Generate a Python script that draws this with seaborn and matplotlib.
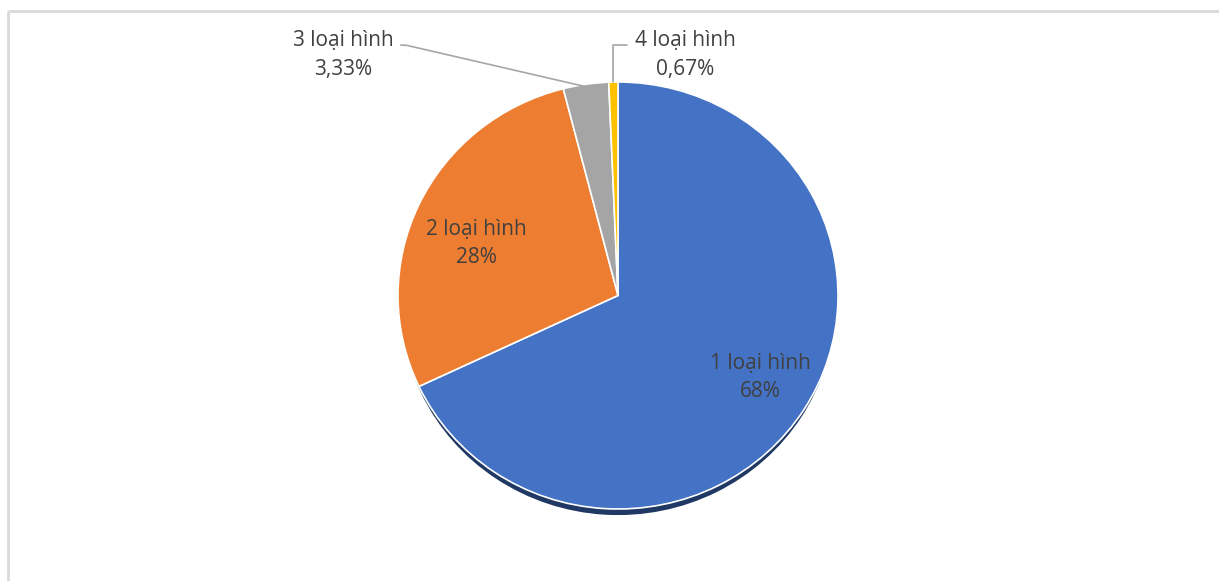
import numpy as np
import seaborn as sns
import matplotlib.pyplot as plt

# values
categories = ["1 loại hình", "2 loại hình", "3 loại hình", "4 loại hình"]
shares = [68, 28, 3.33, 0.67]
share_labels = ["68%", "28%", "3,33%", "0,67%"]
colors = ["#4472C4", "#ED7D31", "#A5A5A5", "#FFC000"]

W, H = 1219, 581
sns.set_theme(style="white")
plt.rcParams['font.family'] = ['Open Sans', 'DejaVu Sans']
palette = sns.color_palette(colors)

# the pie in the reference is a touch wider than tall
RX, RY = 220, 213.5
k = RX / RY


def py(y):
    # pixel row (from top) -> data y
    return (H - y) * k


fig = plt.figure(figsize=(W / 100, H / 100), dpi=100)
ax = fig.add_axes([0, 0, 1, 1])

# outer frame (only left and top edges are visible)
ax.plot([8, 8], [py(H + 5), py(11)], color='#d9d9d9', lw=2, solid_capstyle='butt')
ax.plot([8, W + 5], [py(11), py(11)], color='#d9d9d9', lw=2, solid_capstyle='butt')

cx, cy = 618, py(295.5)

# shadow under the pie
ax.pie(shares, colors=['#1F3864'] * 4, startangle=90, counterclock=False,
       center=(cx, cy - 9 * k), radius=RX - 3, frame=True,
       wedgeprops=dict(linewidth=0))

wedges, _ = ax.pie(shares, colors=palette, startangle=90, counterclock=False,
                   center=(cx, cy), radius=RX, frame=True,
                   wedgeprops=dict(edgecolor='white', linewidth=1.2))
ax.set_xlim(0, W)
ax.set_ylim(0, H * k)
ax.set_aspect('auto')
ax.axis('off')

txt_color = '#404040'
fs = 15
ls = 1.45

# labels inside the two big wedges
for w, cat, lab, d, da in zip(wedges[:2], categories[:2], share_labels[:2],
                              [0.75, 0.69], [2, 4]):
    ang = np.deg2rad((w.theta1 + w.theta2) / 2 + da)
    ax.text(cx + d * RX * np.cos(ang), cy + d * RX * np.sin(ang) - 1, f"{cat}\n{lab}",
            ha='center', va='center', fontsize=fs, color=txt_color, linespacing=ls)

# leader-line labels for the two thin wedges
w3, w4 = wedges[2], wedges[3]
a3 = np.deg2rad((w3.theta1 + w3.theta2) / 2)
a4 = np.deg2rad((w4.theta1 + w4.theta2) / 2)
ax.annotate(f"{categories[2]}\n{share_labels[2]}",
            xy=(cx + RX * np.cos(a3) - 2, cy + RX * np.sin(a3) - 2),
            xytext=(343, py(55)), ha='center', va='center', fontsize=fs,
            color=txt_color, linespacing=ls,
            arrowprops=dict(arrowstyle='-', color='#a6a6a6', lw=1.2,
                            shrinkA=3, shrinkB=0, relpos=(1.0, 0.7),
                            connectionstyle='angle,angleA=180,angleB=-13,rad=0'))
ax.annotate(f"{categories[3]}\n{share_labels[3]}",
            xy=(cx + RX * np.cos(a4), cy + RX * np.sin(a4)),
            xytext=(685, py(55)), ha='center', va='center', fontsize=fs,
            color=txt_color, linespacing=ls,
            arrowprops=dict(arrowstyle='-', color='#a6a6a6', lw=1.2,
                            shrinkA=3, shrinkB=0, relpos=(0.0, 0.7),
                            connectionstyle='angle,angleA=0,angleB=90,rad=0'))

fig.savefig('out.png', dpi=100)
